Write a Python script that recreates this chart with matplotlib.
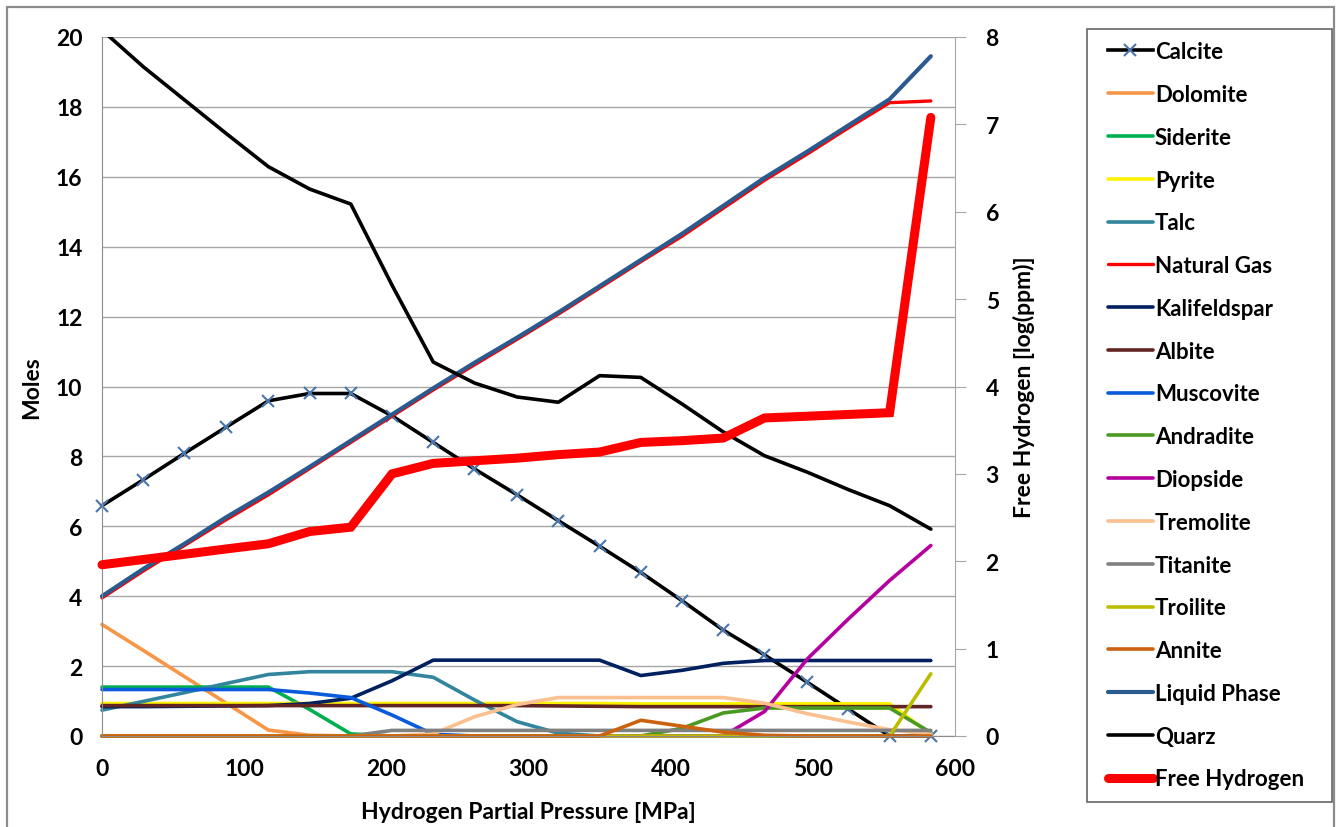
import matplotlib
matplotlib.use("Agg")
import matplotlib.pyplot as plt
from matplotlib.patches import Rectangle
from matplotlib.legend_handler import HandlerLine2D
import numpy as np

plt.rcParams['font.family'] = ['Lato', 'DejaVu Sans']
plt.rcParams['font.weight'] = 'bold'
plt.rcParams['axes.labelweight'] = 'bold'

pressure = [0, 29, 58, 87, 117, 146, 175, 204, 233, 262, 292, 321, 350, 379, 408, 437, 466, 496, 525, 554, 583]

calcite      = [6.59, 7.33, 8.09, 8.83, 9.59, 9.80, 9.80, 9.16, 8.40, 7.64, 6.90, 6.16, 5.43, 4.68, 3.87, 3.03, 2.32, 1.54, 0.77, 0.0, 0.0]
dolomite     = [3.19, 2.45, 1.70, 0.95, 0.17, 0.02, 0, 0, 0, 0, 0, 0, 0, 0, 0, 0, 0, 0, 0, 0, 0]
siderite     = [1.40, 1.40, 1.40, 1.40, 1.40, 0.76, 0.06, 0, 0, 0, 0, 0, 0, 0, 0, 0, 0, 0, 0, 0, 0]
pyrite       = [0.93, 0.93, 0.93, 0.93, 0.93, 0.93, 0.93, 0.93, 0.93, 0.93, 0.93, 0.93, 0.93, 0.92, 0.92, 0.92, 0.92, 0.92, 0.92, 0.92, 0.05]
talc         = [0.74, 0.99, 1.24, 1.50, 1.76, 1.84, 1.84, 1.84, 1.68, 1.03, 0.41, 0.08, 0, 0, 0, 0, 0, 0, 0, 0, 0]
natural_gas  = [3.95, 4.72, 5.45, 6.18, 6.90, 7.65, 8.40, 9.15, 9.90, 10.62, 11.35, 12.07, 12.82, 13.57, 14.30, 15.10, 15.90, 16.65, 17.40, 18.12, 18.17]
kalifeldspar = [0.84, 0.84, 0.85, 0.86, 0.87, 0.93, 1.08, 1.58, 2.17, 2.17, 2.17, 2.17, 2.17, 1.73, 1.88, 2.08, 2.16, 2.16, 2.16, 2.16, 2.16]
albite       = [0.87, 0.87, 0.87, 0.87, 0.87, 0.87, 0.87, 0.87, 0.87, 0.87, 0.87, 0.86, 0.85, 0.84, 0.84, 0.84, 0.84, 0.84, 0.84, 0.84, 0.84]
muscovite    = [1.33, 1.33, 1.33, 1.33, 1.33, 1.23, 1.10, 0.60, 0.05, 0, 0, 0, 0, 0, 0, 0, 0, 0, 0, 0, 0]
andradite    = [0, 0, 0, 0, 0, 0, 0, 0, 0, 0, 0, 0, 0, 0.0, 0.22, 0.66, 0.80, 0.80, 0.80, 0.80, 0.10]
diopside     = [0, 0, 0, 0, 0, 0, 0, 0, 0, 0, 0, 0, 0, 0, 0, 0, 0.70, 2.20, 3.35, 4.45, 5.45]
tremolite    = [0, 0, 0, 0, 0, 0, 0, 0, 0.06, 0.55, 0.90, 1.10, 1.10, 1.10, 1.10, 1.10, 0.94, 0.64, 0.40, 0.18, 0.05]
titanite     = [0, 0, 0, 0, 0, 0, 0, 0.16, 0.16, 0.16, 0.16, 0.16, 0.16, 0.16, 0.16, 0.16, 0.16, 0.16, 0.16, 0.16, 0.16]
troilite     = [0, 0, 0, 0, 0, 0, 0, 0, 0, 0, 0, 0, 0, 0, 0, 0, 0, 0, 0, 0, 1.78]
annite       = [0, 0, 0, 0, 0, 0, 0, 0, 0, 0, 0, 0, 0, 0.45, 0.28, 0.11, 0.02, 0, 0, 0, 0]
liquid_phase = [4.00, 4.78, 5.50, 6.25, 6.97, 7.70, 8.45, 9.20, 9.95, 10.68, 11.40, 12.12, 12.87, 13.62, 14.37, 15.17, 15.97, 16.72, 17.47, 18.22, 19.45]
quarz        = [20.2, 19.15, 18.2, 17.25, 16.29, 15.65, 15.22, 12.9, 10.7, 10.1, 9.7, 9.55, 10.31, 10.26, 9.5, 8.7, 8.02, 7.55, 7.05, 6.59, 5.92]
free_hydrogen = [1.96, 2.02, 2.08, 2.14, 2.20, 2.34, 2.39, 3.00, 3.12, 3.15, 3.18, 3.22, 3.25, 3.36, 3.38, 3.41, 3.64, 3.66, 3.68, 3.70, 7.08]

x_ticks = [0, 100, 200, 300, 400, 500, 600]
left_ticks = [0, 2, 4, 6, 8, 10, 12, 14, 16, 18, 20]
right_ticks = [0, 1, 2, 3, 4, 5, 6, 7, 8]

W, H = 1341, 828
fig = plt.figure(figsize=(W / 100, H / 100), dpi=100)
fig.patches.append(Rectangle((7 / W, -0.01), (1334 - 7) / W, 1 - 8 / H + 0.01,
                             transform=fig.transFigure, fill=False,
                             edgecolor='#8C8C8C', linewidth=1.6))

ax = fig.add_axes([102 / W, 1 - 737 / H, (955 - 102) / W, (737 - 38) / H])
ax2 = ax.twinx()

series = [
    ("Calcite", calcite, "#000000", 2.6),
    ("Dolomite", dolomite, "#F79646", 2.6),
    ("Siderite", siderite, "#00B050", 2.6),
    ("Pyrite", pyrite, "#FFF200", 2.6),
    ("Talc", talc, "#31859C", 2.6),
    ("Natural Gas", natural_gas, "#FF0000", 2.4),
    ("Kalifeldspar", kalifeldspar, "#002060", 2.6),
    ("Albite", albite, "#632523", 2.6),
    ("Muscovite", muscovite, "#0A5ADC", 2.6),
    ("Andradite", andradite, "#4A9A22", 2.6),
    ("Diopside", diopside, "#B4009E", 2.6),
    ("Tremolite", tremolite, "#FAC090", 2.6),
    ("Titanite", titanite, "#808080", 2.6),
    ("Troilite", troilite, "#BDBD00", 2.6),
    ("Annite", annite, "#CC620F", 2.6),
    ("Liquid Phase", liquid_phase, "#2B5A8E", 3.0),
    ("Quarz", quarz, "#000000", 2.6),
]

handles = []
for name, vals, col, lw in series:
    if name == "Calcite":
        h, = ax.plot(pressure, vals, color=col, lw=lw, marker='x', markersize=9,
                     markeredgecolor='#4A76AA', markeredgewidth=1.5, label=name,
                     clip_on=False, solid_joinstyle='round')
    else:
        h, = ax.plot(pressure, vals, color=col, lw=lw, label=name,
                     clip_on=(name == "Quarz"), solid_joinstyle='round',
                     solid_capstyle='round')
    handles.append(h)

hf, = ax2.plot(pressure, free_hydrogen, color="#FF0000", lw=6.5, label="Free Hydrogen",
               solid_joinstyle='miter', solid_capstyle='round', clip_on=False)
handles.append(hf)

ax.set_xlim(0, 600)
ax.set_ylim(0, 20)
ax2.set_ylim(0, 8)
ax.set_xticks(x_ticks)
ax.set_yticks(left_ticks)
ax2.set_yticks(right_ticks)

ax.grid(axis='y', color='#A6A6A6', linewidth=1.0)
ax.set_axisbelow(True)
for s in ['top', 'right']:
    ax.spines[s].set_visible(False)
for s in ['top', 'left', 'bottom']:
    ax2.spines[s].set_visible(False)
ax.spines['left'].set_color('#8C8C8C')
ax.spines['bottom'].set_color('#8C8C8C')
ax2.spines['right'].set_color('#A6A6A6')

ax.tick_params(axis='both', length=0, labelsize=16.5, pad=14)
ax.tick_params(axis='x', pad=16)
ax2.tick_params(axis='y', length=8, color='#A6A6A6', labelsize=16.5, pad=14)

ax.set_xlabel("Hydrogen Partial Pressure [MPa]", fontsize=16.5, fontweight='bold', labelpad=16)
ax.set_ylabel("Moles", fontsize=16.5, fontweight='bold', labelpad=10)
ax2.set_ylabel("Free Hydrogen [log(ppm)]", fontsize=16.5, fontweight='bold', labelpad=10)

hmap = {h: HandlerLine2D(xpad=0.4) for h in handles}
leg = fig.legend(handles=handles, labels=[h.get_label() for h in handles],
                 loc='upper left', bbox_to_anchor=(1087 / W, 1 - 30 / H, (1332 - 1087) / W, 0.0),
                 mode='expand', fontsize=16, handlelength=2.4, handletextpad=0.1,
                 labelspacing=0.98, borderpad=0.55, borderaxespad=0.0,
                 frameon=True, fancybox=False, handler_map=hmap)
leg.get_frame().set_edgecolor('#404040')
leg.get_frame().set_linewidth(1.2)

fig.savefig("out.png", dpi=100)
